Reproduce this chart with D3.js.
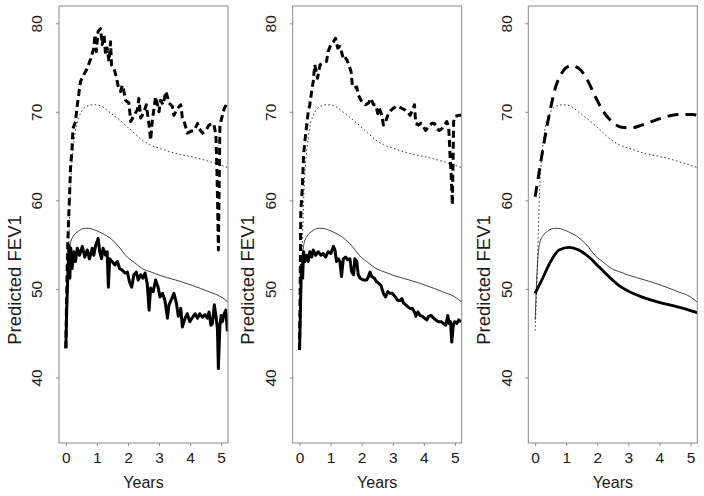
<!DOCTYPE html>
<html>
<head>
<meta charset="utf-8">
<script src="https://cdn.jsdelivr.net/npm/d3@7"></script>
<style>
  html, body { margin: 0; padding: 0; background: #fff; }
  svg { display: block; }
  text { font-family: "Liberation Sans", Arial, Helvetica, sans-serif; fill: #1a1a1a; }
</style>
</head>
<body>
<svg id="chart" width="704" height="496"></svg>
<script>
// ---------------- DATA ----------------
const xTicks = [0, 1, 2, 3, 4, 5];
const yTicks = [40, 50, 60, 70, 80];
const xLabel = "Years";
const yLabel = "Predicted FEV1";

// reference curves (shared by all panels)
const refSolidX = [0, 0.05, 0.1, 0.15, 0.25, 0.4, 0.55, 0.72, 0.9, 1.1, 1.4, 1.7, 1.92, 2.2, 2.46, 2.75, 3.0, 3.54, 4.07, 4.61, 5.0, 5.22];
const refSolidY = [46.5, 51, 54, 55.2, 56.0, 56.5, 56.8, 56.85, 56.7, 56.4, 55.8, 54.8, 53.8, 53.0, 52.3, 51.9, 51.56, 51.0, 50.4, 49.67, 49.1, 48.5];
const refDotX = [0, 0.05, 0.1, 0.13, 0.18, 0.24, 0.3, 0.34, 0.42, 0.5, 0.66, 0.9, 1.1, 1.39, 1.65, 1.92, 2.2, 2.46, 2.7, 3.0, 3.54, 4.07, 4.61, 5.22];
const refDotY = [45.3, 50, 56, 59.8, 63.5, 65.9, 67.6, 68.5, 69.4, 70.0, 70.6, 70.8, 70.7, 70.0, 69.3, 68.5, 67.6, 66.8, 66.3, 65.9, 65.3, 64.9, 64.4, 63.7];

// panel 1 (left)
const p1DashX = [0, 0.03, 0.06, 0.1, 0.15, 0.2, 0.23, 0.31, 0.37, 0.42, 0.47, 0.58, 0.69, 0.8, 0.9, 0.94, 0.98, 1.04, 1.12, 1.17, 1.23, 1.28, 1.33, 1.39, 1.44, 1.47, 1.55, 1.62, 1.69, 1.76, 1.82, 1.87, 1.92, 2.03, 2.09, 2.19, 2.3, 2.35, 2.41, 2.52, 2.59, 2.68, 2.73, 2.78, 2.89, 2.95, 3.0, 3.05, 3.13, 3.22, 3.27, 3.32, 3.43, 3.48, 3.56, 3.65, 3.7, 3.75, 3.81, 3.91, 4.02, 4.13, 4.24, 4.29, 4.4, 4.51, 4.61, 4.72, 4.77, 4.83, 4.86, 4.89, 4.91, 4.93, 4.96, 5.04, 5.1, 5.22];
const p1DashY = [43.3, 50, 55, 58.7, 63.6, 65.9, 68.1, 68.9, 70.8, 72.1, 73.4, 74.2, 74.9, 76.0, 77.2, 78.7, 76.8, 79.1, 79.4, 77.6, 78.7, 76.4, 77.2, 75.7, 77.9, 75.3, 74.9, 74.0, 72.8, 72.3, 73.0, 72.3, 71.3, 71.0, 68.9, 69.6, 70.2, 71.5, 69.3, 70.0, 70.8, 68.5, 66.8, 68.9, 71.7, 70.8, 70.0, 71.3, 70.8, 72.3, 71.7, 71.0, 70.6, 69.6, 70.2, 70.6, 70.8, 69.3, 68.9, 67.6, 67.8, 67.9, 68.7, 68.1, 67.6, 67.9, 68.5, 68.7, 68.5, 67.4, 64.0, 59.0, 54.4, 60.0, 68.5, 69.6, 70.4, 71.1];
const p1SolidX = [0, 0.03, 0.065, 0.1, 0.13, 0.16, 0.2, 0.26, 0.31, 0.37, 0.44, 0.53, 0.61, 0.69, 0.76, 0.85, 0.9, 0.96, 1.04, 1.09, 1.15, 1.2, 1.28, 1.33, 1.37, 1.41, 1.49, 1.58, 1.66, 1.73, 1.82, 1.9, 1.98, 2.05, 2.12, 2.19, 2.27, 2.33, 2.41, 2.48, 2.55, 2.62, 2.68, 2.73, 2.81, 2.89, 2.97, 3.03, 3.11, 3.19, 3.27, 3.32, 3.41, 3.48, 3.56, 3.62, 3.7, 3.75, 3.84, 3.91, 3.99, 4.08, 4.16, 4.24, 4.31, 4.4, 4.48, 4.56, 4.61, 4.67, 4.72, 4.78, 4.83, 4.88, 4.91, 4.96, 5.0, 5.04, 5.1, 5.15, 5.2];
const p1SolidY = [43.3, 47.8, 51.6, 54.9, 51.2, 54.6, 52.3, 54.2, 53.1, 54.6, 53.8, 54.8, 53.6, 54.4, 53.4, 54.6, 53.8, 54.9, 55.7, 54.2, 53.4, 54.6, 53.8, 54.2, 50.2, 53.4, 53.1, 52.7, 53.1, 52.3, 52.1, 51.8, 51.9, 50.8, 50.2, 51.6, 51.9, 51.0, 51.6, 51.2, 51.8, 50.6, 47.6, 50.1, 49.7, 51.0, 50.2, 49.1, 49.5, 48.7, 46.7, 48.2, 48.9, 49.5, 48.4, 46.9, 47.8, 45.7, 46.7, 47.2, 46.3, 46.8, 47.2, 46.7, 47.2, 46.8, 47.1, 46.7, 47.4, 45.9, 46.1, 48.2, 47.0, 45.5, 41.0, 45.9, 47.0, 46.3, 47.2, 47.6, 45.2];

// panel 2 (middle)
const p2DashX = [0, 0.02, 0.04, 0.09, 0.13, 0.17, 0.23, 0.28, 0.33, 0.39, 0.44, 0.49, 0.58, 0.66, 0.76, 0.87, 0.92, 1.01, 1.09, 1.16, 1.23, 1.3, 1.35, 1.41, 1.46, 1.52, 1.59, 1.66, 1.7, 1.76, 1.84, 1.89, 1.98, 2.05, 2.13, 2.22, 2.3, 2.38, 2.45, 2.52, 2.57, 2.65, 2.7, 2.77, 2.86, 2.95, 3.02, 3.1, 3.18, 3.29, 3.4, 3.48, 3.56, 3.63, 3.7, 3.74, 3.83, 3.91, 3.99, 4.06, 4.15, 4.26, 4.34, 4.42, 4.49, 4.58, 4.67, 4.74, 4.8, 4.82, 4.85, 4.88, 4.92, 4.96, 5.01, 5.12, 5.22];
const p2DashY = [43.1, 50, 58.7, 61.4, 65.1, 66.6, 68.5, 70.0, 70.8, 72.3, 73.4, 75.3, 73.8, 75.3, 75.5, 75.7, 76.8, 77.6, 77.9, 78.3, 77.2, 77.4, 76.8, 76.0, 76.2, 75.9, 75.3, 74.5, 73.0, 72.7, 72.8, 71.9, 71.3, 71.0, 70.8, 71.0, 71.5, 70.8, 70.8, 69.8, 70.4, 69.6, 68.5, 68.9, 69.8, 70.2, 70.4, 70.6, 70.6, 70.4, 70.2, 70.0, 69.6, 70.2, 70.8, 68.7, 68.5, 68.7, 68.3, 67.9, 68.3, 68.7, 68.7, 68.1, 67.9, 68.1, 68.5, 68.9, 68.3, 67.0, 64.7, 62.9, 59.5, 68.9, 69.5, 69.6, 69.6];
const p2SolidX = [0, 0.03, 0.06, 0.1, 0.13, 0.17, 0.23, 0.28, 0.33, 0.39, 0.44, 0.52, 0.6, 0.69, 0.76, 0.84, 0.92, 1.01, 1.09, 1.14, 1.19, 1.25, 1.3, 1.35, 1.41, 1.48, 1.55, 1.62, 1.68, 1.74, 1.78, 1.84, 1.89, 1.95, 2.05, 2.16, 2.22, 2.27, 2.32, 2.41, 2.48, 2.56, 2.62, 2.7, 2.77, 2.84, 2.91, 2.99, 3.08, 3.16, 3.24, 3.29, 3.35, 3.42, 3.48, 3.56, 3.63, 3.7, 3.74, 3.81, 3.88, 3.96, 4.02, 4.1, 4.15, 4.24, 4.31, 4.39, 4.47, 4.56, 4.63, 4.71, 4.77, 4.82, 4.86, 4.9, 4.95, 4.99, 5.06, 5.12, 5.2];
const p2SolidY = [43.1, 47.8, 52.7, 51.2, 54.2, 53.1, 53.8, 53.1, 54.2, 53.6, 54.4, 53.8, 54.2, 53.8, 54.0, 53.6, 54.2, 54.0, 54.8, 54.4, 53.1, 53.4, 53.1, 51.4, 53.4, 53.6, 53.3, 53.4, 51.9, 51.6, 53.4, 53.1, 51.6, 51.2, 51.0, 51.0, 51.4, 51.9, 51.4, 51.2, 50.8, 50.6, 50.4, 49.5, 49.1, 49.7, 49.5, 49.5, 49.1, 48.7, 48.7, 48.9, 48.4, 48.2, 48.0, 47.8, 47.8, 47.4, 46.9, 47.4, 47.0, 46.9, 46.7, 46.5, 46.9, 47.0, 46.7, 46.5, 46.3, 46.3, 46.1, 45.9, 47.0, 46.1, 46.3, 44.0, 45.9, 46.3, 46.1, 46.5, 46.3];

// panel 3 (right, smoothed)
const p3DashX = [0, 0.13, 0.29, 0.45, 0.66, 0.88, 1.14, 1.41, 1.68, 1.94, 2.2, 2.47, 2.79, 3.11, 3.43, 3.75, 4.18, 4.6, 5.08, 5.22];
const p3DashY = [60.4, 63.2, 66.6, 69.6, 72.8, 74.5, 75.2, 74.9, 73.6, 71.7, 70.0, 68.9, 68.25, 68.2, 68.5, 68.9, 69.4, 69.7, 69.7, 69.6];
const p3SolidX = [0, 0.24, 0.5, 0.77, 1.09, 1.41, 1.73, 2.05, 2.37, 2.69, 3.0, 3.43, 3.96, 4.5, 5.14, 5.22];
const p3SolidY = [49.5, 51.2, 53.1, 54.4, 54.7, 54.4, 53.6, 52.5, 51.4, 50.4, 49.75, 49.1, 48.5, 48.05, 47.4, 47.3];

// ---------------- DRAW ----------------
const zip = (xs, ys) => xs.map((x, i) => ({ x: x, y: ys[i] }));
const panels = [
  { dash: zip(p1DashX, p1DashY), solid: zip(p1SolidX, p1SolidY), smooth: false },
  { dash: zip(p2DashX, p2DashY), solid: zip(p2SolidX, p2SolidY), smooth: false },
  { dash: zip(p3DashX, p3DashY), solid: zip(p3SolidX, p3SolidY), smooth: true }
];
const refSolid = zip(refSolidX, refSolidY);
const refDot = zip(refDotX, refDotY);

const svg = d3.select("#chart");
const offsets = [0, 233.7, 469.3];
const L = 59, T = 6, W = 169, H = 437;

const x = d3.scaleLinear().domain([-0.22, 5.22]).range([L, L + W]);
const y = d3.scaleLinear().domain([32.6, 81.95]).range([T + H, T]);

panels.forEach((p, i) => {
  const g = svg.append("g").attr("transform", `translate(${offsets[i]},0)`);
  const clipId = "clip" + i;
  g.append("clipPath").attr("id", clipId)
    .append("rect").attr("x", L).attr("y", T).attr("width", W).attr("height", H);

  const plot = g.append("g").attr("clip-path", `url(#${clipId})`);
  const lineLin = d3.line().x(d => x(d.x)).y(d => y(d.y));
  const lineSm = d3.line().x(d => x(d.x)).y(d => y(d.y)).curve(d3.curveMonotoneX);

  plot.append("path").datum(refDot).attr("d", lineSm)
    .attr("fill", "none").attr("stroke", "#3a3a3a").attr("stroke-width", 1)
    .attr("stroke-dasharray", "1.6,2.4");
  plot.append("path").datum(refSolid).attr("d", lineSm)
    .attr("fill", "none").attr("stroke", "#2a2a2a").attr("stroke-width", 0.9);

  const lf = p.smooth ? lineSm : lineLin;
  plot.append("path").datum(p.dash).attr("d", lf)
    .attr("fill", "none").attr("stroke", "#000").attr("stroke-width", 3)
    .attr("stroke-dasharray", p.smooth ? "11,7" : "7,4")
    .attr("stroke-linejoin", "round");
  plot.append("path").datum(p.solid).attr("d", lf)
    .attr("fill", "none").attr("stroke", "#000").attr("stroke-width", p.smooth ? 2.8 : 3)
    .attr("stroke-linejoin", "round");

  // box
  g.append("rect").attr("x", L).attr("y", T).attr("width", W).attr("height", H)
    .attr("fill", "none").attr("stroke", "#8a8a8a").attr("stroke-width", 1);

  // x axis
  const gx = g.append("g").attr("transform", `translate(0,${T + H})`)
    .call(d3.axisBottom(x).tickValues(xTicks).tickSize(3).tickPadding(5.8).tickFormat(d3.format("d")));
  gx.select(".domain").remove();
  gx.selectAll(".tick line").attr("stroke", "#8a8a8a");
  gx.selectAll(".tick text").attr("font-size", 15.5).attr("fill", "#1a1a1a")
    .style("font-family", "'Liberation Sans', Arial, sans-serif");

  // y axis
  const gy = g.append("g").attr("transform", `translate(${L},0)`)
    .call(d3.axisLeft(y).tickValues(yTicks).tickSize(3).tickFormat(d3.format("d")));
  gy.select(".domain").remove();
  gy.selectAll(".tick line").attr("stroke", "#8a8a8a");
  gy.selectAll(".tick text")
    .attr("font-size", 15.5).attr("fill", "#1a1a1a")
    .style("font-family", "'Liberation Sans', Arial, sans-serif")
    .attr("text-anchor", "middle").attr("x", 0).attr("y", -16.6).attr("dy", null)
    .attr("transform", "rotate(-90)");

  // axis titles
  g.append("text").attr("x", L + W / 2).attr("y", 488)
    .attr("text-anchor", "middle").attr("font-size", 16).text(xLabel);
  g.append("text").attr("transform", `translate(20.5,280) rotate(-90)`)
    .attr("text-anchor", "middle").attr("font-size", 18.5).text(yLabel);
});
</script>
</body>
</html>
